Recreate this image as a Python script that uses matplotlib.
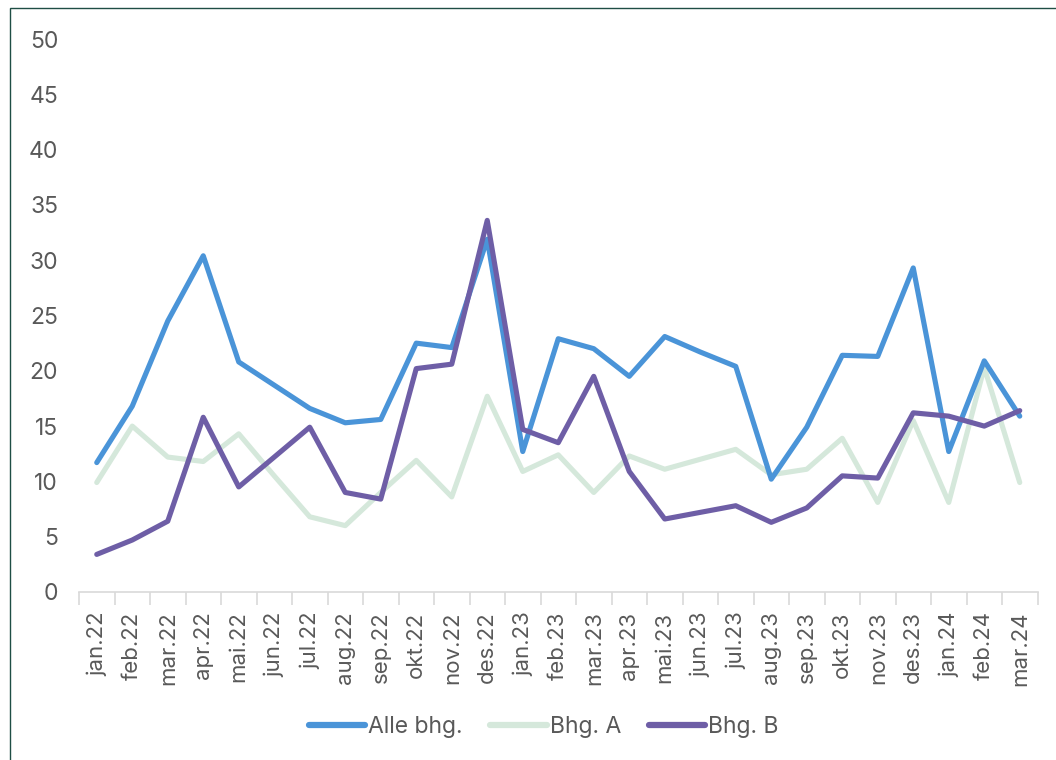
import matplotlib
matplotlib.use('Agg')
import matplotlib.pyplot as plt
from matplotlib.patches import Rectangle

# --- data ---
months = ['jan.22', 'feb.22', 'mar.22', 'apr.22', 'mai.22', 'jun.22', 'jul.22',
          'aug.22', 'sep.22', 'okt.22', 'nov.22', 'des.22', 'jan.23', 'feb.23',
          'mar.23', 'apr.23', 'mai.23', 'jun.23', 'jul.23', 'aug.23', 'sep.23',
          'okt.23', 'nov.23', 'des.23', 'jan.24', 'feb.24', 'mar.24']

alle_bhg = [11.7, 16.8, 24.5, 30.4, 20.8, 18.7, 16.6, 15.3, 15.6, 22.5, 22.1, 31.9,
            12.7, 22.9, 22.0, 19.5, 23.1, 21.7, 20.4, 10.2, 14.9, 21.4, 21.3, 29.3,
            12.7, 20.9, 15.9]
bhg_a = [9.9, 15.0, 12.2, 11.8, 14.3, 10.5, 6.8, 6.0, 9.0, 11.9, 8.6, 17.7,
         10.9, 12.4, 9.0, 12.3, 11.1, 12.0, 12.9, 10.6, 11.1, 13.9, 8.1, 15.5,
         8.1, 20.3, 9.9]
bhg_b = [3.4, 4.7, 6.4, 15.8, 9.5, 12.2, 14.9, 9.0, 8.4, 20.2, 20.6, 33.6,
         14.7, 13.5, 19.5, 10.9, 6.6, 7.2, 7.8, 6.3, 7.6, 10.5, 10.3, 16.2,
         15.9, 15.0, 16.4]

yticks = list(range(0, 55, 5))

plt.rcParams['font.family'] = ['Inter', 'DejaVu Sans']

fig = plt.figure(figsize=(10.56, 7.6), dpi=100)
ax = fig.add_axes([79 / 1056, 1 - 592 / 760, 958.5 / 1056, 553 / 760])

x = list(range(len(months)))
ax.plot(x, alle_bhg, color='#4a94d8', lw=3.7, solid_capstyle='round',
        solid_joinstyle='round', label='Alle bhg.', zorder=3)
ax.plot(x, bhg_a, color='#d5e8db', lw=3.7, solid_capstyle='round',
        solid_joinstyle='round', label='Bhg. A', zorder=2)
ax.plot(x, bhg_b, color='#6e5ea6', lw=3.7, solid_capstyle='round',
        solid_joinstyle='round', label='Bhg. B', zorder=4)

ax.set_xlim(-0.5, len(months) - 0.5)
ax.set_ylim(0, 50)
ax.set_yticks(yticks)
ax.set_yticklabels([str(v) for v in yticks])

# category labels at centres, tick marks between categories (Excel style)
ax.set_xticks(x)
ax.set_xticklabels(months, rotation=90)
ax.set_xticks([i - 0.5 for i in range(len(months) + 1)], minor=True)
ax.tick_params(axis='x', which='major', length=0, pad=14, labelsize=16,
               labelcolor='#595959')
ax.tick_params(axis='x', which='minor', length=9, width=1.2, color='#d9d9d9')
ax.tick_params(axis='y', length=0, pad=15, labelsize=16.5, labelcolor='#595959')

for s in ['top', 'right', 'left']:
    ax.spines[s].set_visible(False)
ax.spines['bottom'].set_color('#d9d9d9')
ax.spines['bottom'].set_linewidth(1.2)

leg = fig.legend(loc='center', bbox_to_anchor=(0.515, 1 - 727 / 760), ncol=3,
                 frameon=False, handlelength=2.45, columnspacing=1.2,
                 handletextpad=0.15, prop={'size': 16.5})
for t in leg.get_texts():
    t.set_color('#595959')
for h in leg.get_lines():
    h.set_linewidth(4.5)

# outer frame of the chart area
fig.patches.append(Rectangle((10 / 1056, -0.01), 1.2, 1 - 8 / 760 + 0.01,
                             transform=fig.transFigure, fill=False,
                             edgecolor='#1f4e45', linewidth=1.0))

fig.savefig('out.png', dpi=100)
